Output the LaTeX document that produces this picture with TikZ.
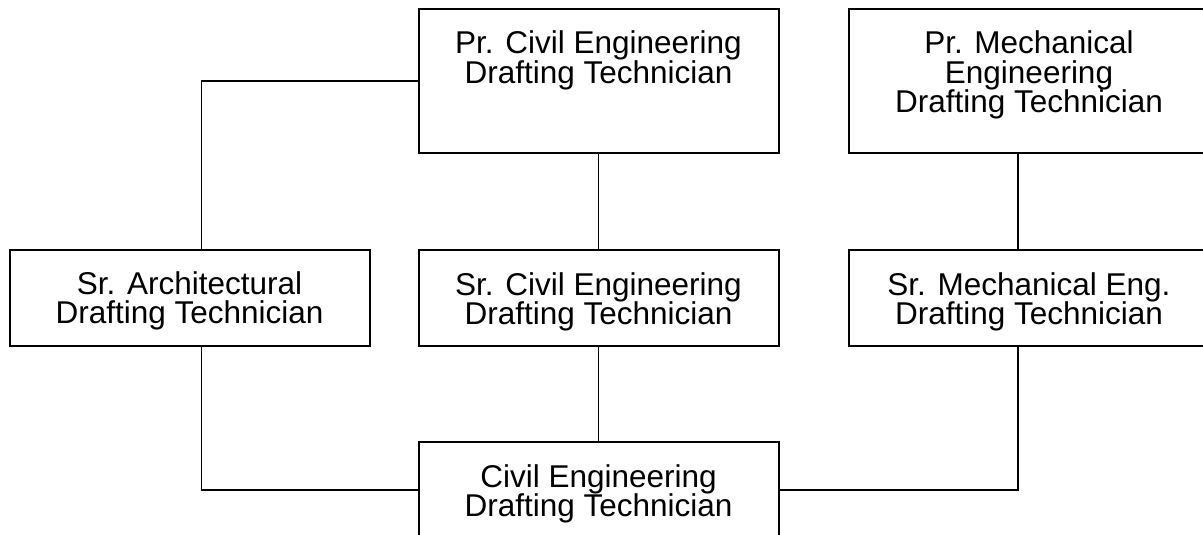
\documentclass[tikz,border=0pt]{standalone}
\usepackage{fontspec}
\setmainfont{Liberation Sans}
\def\jobcell#1#2{\parbox[c][#1][t]{360pt}{\centering\fontsize{31.5}{29.3}\selectfont\lineskiplimit=-10pt\rule{0pt}{45pt}#2}}
\tikzset{
	postbox/.style={draw, line width=2pt, inner sep=0pt},
	link/.style={line width=1.4pt}
}

\begin{document}
\begin{tikzpicture}[x=1pt, y=-1pt]
		%%%%% START %%%%%
		\useasboundingbox (0, 0) rectangle (1203, 535);
		
		\node[postbox] (pciv) at (598.5, 81) {\jobcell{144pt}{Pr. Civil Engineering\\Drafting Technician}};
		\node[postbox] (pmech) at (1029, 81) {\jobcell{144pt}{Pr. Mechanical\\Engineering\\Drafting Technician}};
		
		\node[postbox] (sarch) at (189.5, 297.5) {\jobcell{96pt}{Sr. Architectural\\Drafting Technician}};
		\node[postbox] (sciv) at (598.5, 298) {\jobcell{96pt}{Sr. Civil Engineering\\Drafting Technician}};
		\node[postbox] (smech) at (1029, 298) {\jobcell{96pt}{Sr. Mechanical Eng.\\Drafting Technician}};
		
		\node[postbox] (civ) at (598.5, 490) {\jobcell{96pt}{Civil Engineering\\Drafting Technician}};
		
		\draw[link] (pciv.west) -| ([xshift=12pt]sarch.north);
		\draw[link] (pciv.south) -- (sciv.north);
		\draw[link] ([xshift=-11pt]pmech.south) -- ([xshift=-11pt]smech.north);
		
		\draw[link] ([xshift=12pt]sarch.south) |- (civ.west);
		\draw[link] (sciv.south) -- (civ.north);
		\draw[link] ([xshift=-11pt]smech.south) |- (civ.east);
		
		%%%%% END %%%%%
\end{tikzpicture}
\end{document}
